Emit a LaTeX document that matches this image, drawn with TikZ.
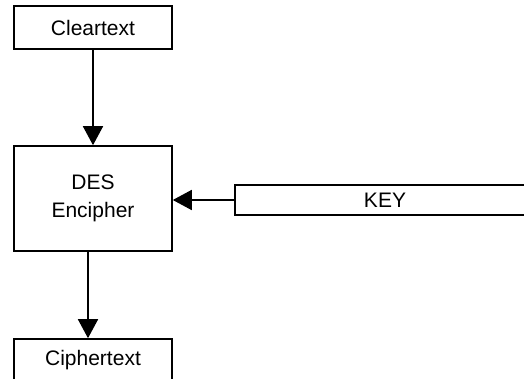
\documentclass[tikz,border=0pt]{standalone}
\usepackage{fontspec}
\setmainfont{Liberation Sans}
\usetikzlibrary{arrows.meta}
\begin{document}
\begin{tikzpicture}[x=1pt,y=-1pt,
  box/.style={draw=black,line width=1.6pt,rectangle,inner sep=0pt,
    font=\fontsize{21}{28}\selectfont,align=center},
  conn/.style={line width=1.6pt,-{Triangle[length=19pt,width=20pt]}}]
\useasboundingbox (0,0) rectangle (524,379);
\clip (0,0) rectangle (524,379);
\fill[white] (0,0) rectangle (524,379);
\node[box,minimum width=158pt,minimum height=43pt] (clear) at (93,27.5) {Cleartext};
\node[box,minimum width=158pt,minimum height=105pt] (des) at (93,198.5) {DES\\Encipher};
\node[box,minimum width=300pt,minimum height=30pt] (key) at (385,200) {KEY};
\node[box,minimum width=158pt,minimum height=43pt] (cipher) at (93,360.5) {Ciphertext};
\draw[conn] (clear.south) -- (des.north);
\draw[conn] (key.west) -- (key.west -| des.east);
\draw[conn] ([xshift=-5pt]des.south) -- ([xshift=-5pt]cipher.north);
\end{tikzpicture}
\end{document}
